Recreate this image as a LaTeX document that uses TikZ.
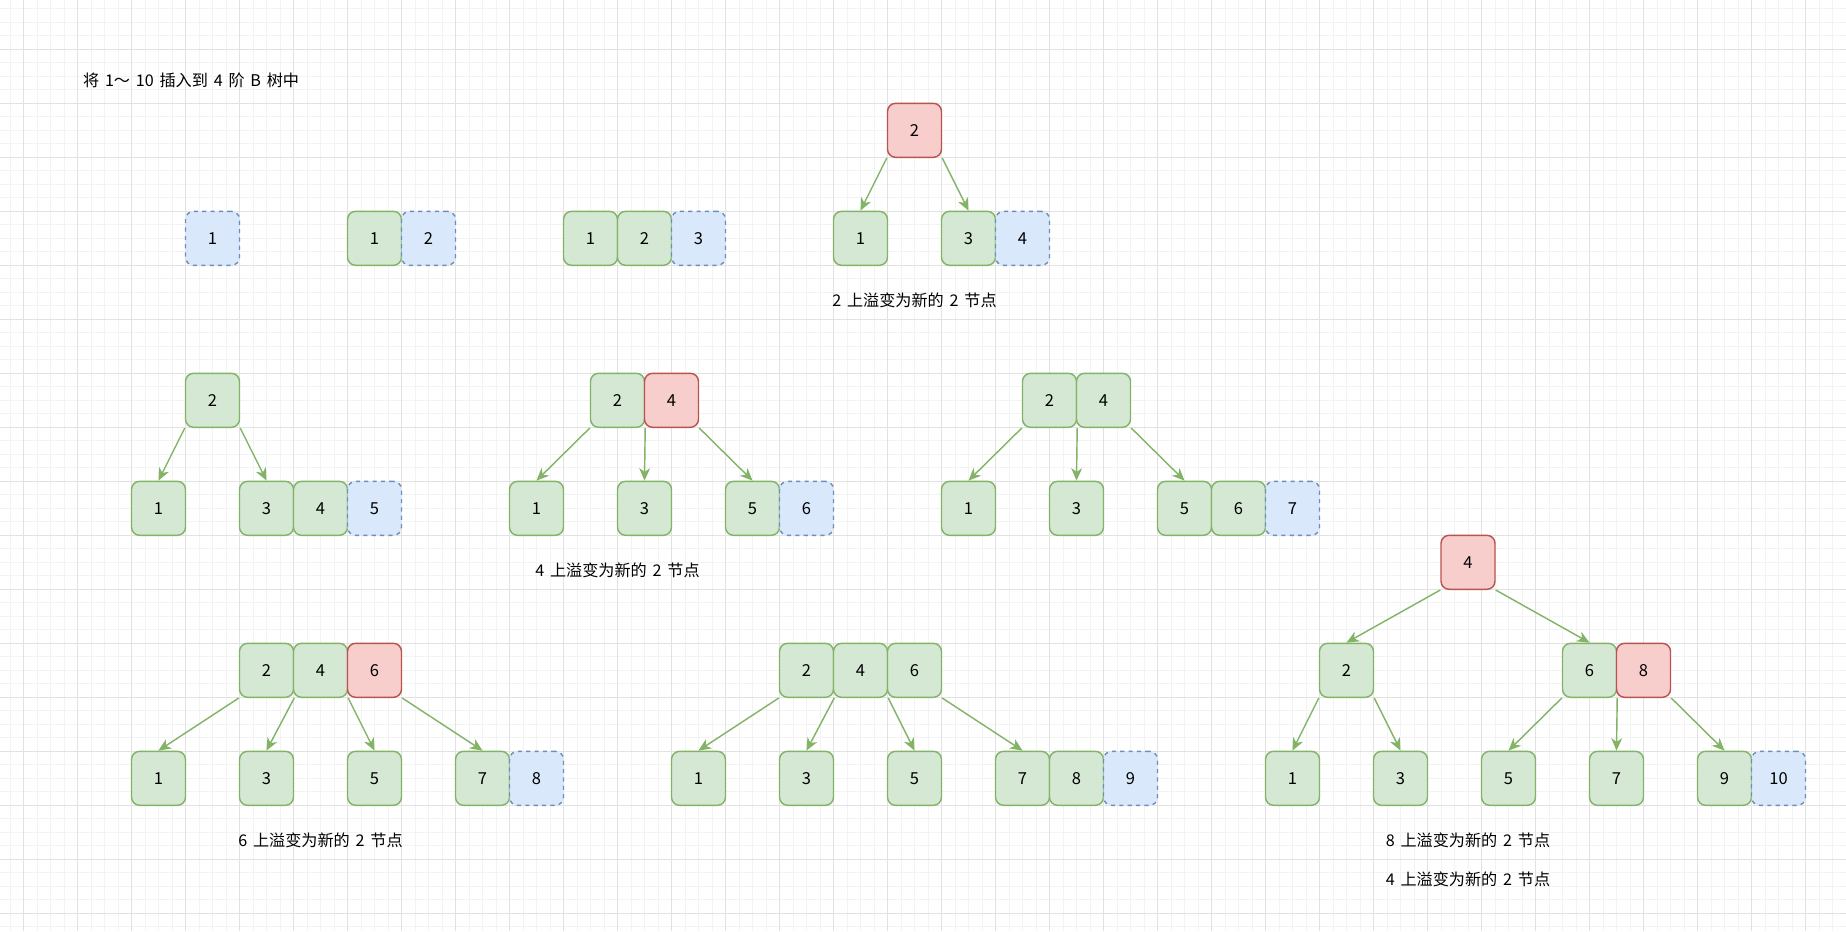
\documentclass[tikz,border=0pt]{standalone}
\usepackage{fontspec}
\setmainfont[WordSpace=1.6]{Noto Sans CJK SC}
\usepackage{tikz}
\usetikzlibrary{arrows.meta}
\definecolor{keygreen}{HTML}{D5E8D4}
\definecolor{linegreen}{HTML}{82B366}
\definecolor{keyred}{HTML}{F8CECC}
\definecolor{linered}{HTML}{B85450}
\definecolor{keyblue}{HTML}{DAE8FC}
\definecolor{lineblue}{HTML}{6C8EBF}
\definecolor{gridlight}{HTML}{F3F3F3}
\definecolor{griddark}{HTML}{E2E2E2}
\tikzset{
key/.style={ % Sets the properties for each key box
draw,
line width=0.75pt,
rounded corners=0.15cm,
minimum size=1cm,
inner sep=0pt,
font=\fontsize{8.7}{10}\selectfont},
greenkey/.style={key, fill=keygreen, draw=linegreen},
redkey/.style={key, fill=keyred, draw=linered},
newkey/.style={key, fill=keyblue, draw=lineblue, dash pattern=on 2.2pt off 2.2pt}, % Key just inserted
note/.style={font=\fontsize{8.5}{10}\selectfont},
every edge/.style={ % Sets the properties for each child pointer
draw=linegreen,
line width=0.75pt,
-{Stealth[length=2.3mm, width=2mm, inset=0.7mm]}}}

\begin{document}
\begin{tikzpicture}
	\useasboundingbox (-0.4352,0.9130) rectangle (33.75,-16.3278);
	\fill[white] (-0.4352,0.9130) rectangle (33.75,-16.3278);
	\draw[gridlight, line width=0.5pt, step=0.25] (-0.4352,0.9130) grid (33.75,-16.3278);
	\draw[griddark, line width=0.5pt, step=1] (-0.4352,0.9130) grid (33.75,-16.3278);

	\node[note, anchor=west] (title) at (0.98,-0.57) {将 1～ 10 插入到 4 阶 B 树中};

	% insert 1, 2, 3
	\node[newkey] (a1) at (3.5,-3.5) {1};
	\node[greenkey] (b1) at (6.5,-3.5) {1};
	\node[newkey] (b2) at (7.5,-3.5) {2};
	\node[greenkey] (c1) at (10.5,-3.5) {1};
	\node[greenkey] (c2) at (11.5,-3.5) {2};
	\node[newkey] (c3) at (12.5,-3.5) {3};

	% insert 4
	\node[redkey] (d2) at (16.5,-1.5) {2};
	\node[greenkey] (d1) at (15.5,-3.5) {1};
	\node[greenkey] (d3) at (17.5,-3.5) {3};
	\node[newkey] (d4) at (18.5,-3.5) {4};
	\draw (d2.south west) edge (d1.north);
	\draw (d2.south east) edge (d3.north);
	\node[note] (dtext) at (16.5,-4.64) {2 上溢变为新的 2 节点};

	% insert 5
	\node[greenkey] (e2) at (3.5,-6.5) {2};
	\node[greenkey] (e1) at (2.5,-8.5) {1};
	\node[greenkey] (e3) at (4.5,-8.5) {3};
	\node[greenkey] (e4) at (5.5,-8.5) {4};
	\node[newkey] (e5) at (6.5,-8.5) {5};
	\draw (e2.south west) edge (e1.north);
	\draw (e2.south east) edge (e3.north);

	% insert 6
	\node[greenkey] (f2) at (11,-6.5) {2};
	\node[redkey] (f4) at (12,-6.5) {4};
	\node[greenkey] (f1) at (9.5,-8.5) {1};
	\node[greenkey] (f3) at (11.5,-8.5) {3};
	\node[greenkey] (f5) at (13.5,-8.5) {5};
	\node[newkey] (f6) at (14.5,-8.5) {6};
	\draw (f2.south west) edge (f1.north);
	\draw (f2.south east) edge (f3.north);
	\draw (f4.south east) edge (f5.north);
	\node[note] (ftext) at (11,-9.64) {4 上溢变为新的 2 节点};

	% insert 7
	\node[greenkey] (g2) at (19,-6.5) {2};
	\node[greenkey] (g4) at (20,-6.5) {4};
	\node[greenkey] (g1) at (17.5,-8.5) {1};
	\node[greenkey] (g3) at (19.5,-8.5) {3};
	\node[greenkey] (g5) at (21.5,-8.5) {5};
	\node[greenkey] (g6) at (22.5,-8.5) {6};
	\node[newkey] (g7) at (23.5,-8.5) {7};
	\draw (g2.south west) edge (g1.north);
	\draw (g2.south east) edge (g3.north);
	\draw (g4.south east) edge (g5.north);

	% insert 8
	\node[greenkey] (h2) at (4.5,-11.5) {2};
	\node[greenkey] (h4) at (5.5,-11.5) {4};
	\node[redkey] (h6) at (6.5,-11.5) {6};
	\node[greenkey] (h1) at (2.5,-13.5) {1};
	\node[greenkey] (h3) at (4.5,-13.5) {3};
	\node[greenkey] (h5) at (6.5,-13.5) {5};
	\node[greenkey] (h7) at (8.5,-13.5) {7};
	\node[newkey] (h8) at (9.5,-13.5) {8};
	\draw (h2.south west) edge (h1.north);
	\draw (h2.south east) edge (h3.north);
	\draw (h4.south east) edge (h5.north);
	\draw (h6.south east) edge (h7.north);
	\node[note] (htext) at (5.5,-14.64) {6 上溢变为新的 2 节点};

	% insert 9
	\node[greenkey] (i2) at (14.5,-11.5) {2};
	\node[greenkey] (i4) at (15.5,-11.5) {4};
	\node[greenkey] (i6) at (16.5,-11.5) {6};
	\node[greenkey] (i1) at (12.5,-13.5) {1};
	\node[greenkey] (i3) at (14.5,-13.5) {3};
	\node[greenkey] (i5) at (16.5,-13.5) {5};
	\node[greenkey] (i7) at (18.5,-13.5) {7};
	\node[greenkey] (i8) at (19.5,-13.5) {8};
	\node[newkey] (i9) at (20.5,-13.5) {9};
	\draw (i2.south west) edge (i1.north);
	\draw (i2.south east) edge (i3.north);
	\draw (i4.south east) edge (i5.north);
	\draw (i6.south east) edge (i7.north);

	% insert 10
	\node[redkey] (j4) at (26.75,-9.5) {4};
	\node[greenkey] (j2) at (24.5,-11.5) {2};
	\node[greenkey] (j6) at (29,-11.5) {6};
	\node[redkey] (j8) at (30,-11.5) {8};
	\node[greenkey] (j1) at (23.5,-13.5) {1};
	\node[greenkey] (j3) at (25.5,-13.5) {3};
	\node[greenkey] (j5) at (27.5,-13.5) {5};
	\node[greenkey] (j7) at (29.5,-13.5) {7};
	\node[greenkey] (j9) at (31.5,-13.5) {9};
	\node[newkey] (j10) at (32.5,-13.5) {10};
	\draw (j4.south west) edge (j2.north);
	\draw (j4.south east) edge (j6.north);
	\draw (j2.south west) edge (j1.north);
	\draw (j2.south east) edge (j3.north);
	\draw (j6.south west) edge (j5.north);
	\draw (j6.south east) edge (j7.north);
	\draw (j8.south east) edge (j9.north);
	\node[note] (jtext) at (26.75,-14.64) {8 上溢变为新的 2 节点};
	\node[note] (jtext2) at (26.75,-15.37) {4 上溢变为新的 2 节点};
\end{tikzpicture}
\end{document}
